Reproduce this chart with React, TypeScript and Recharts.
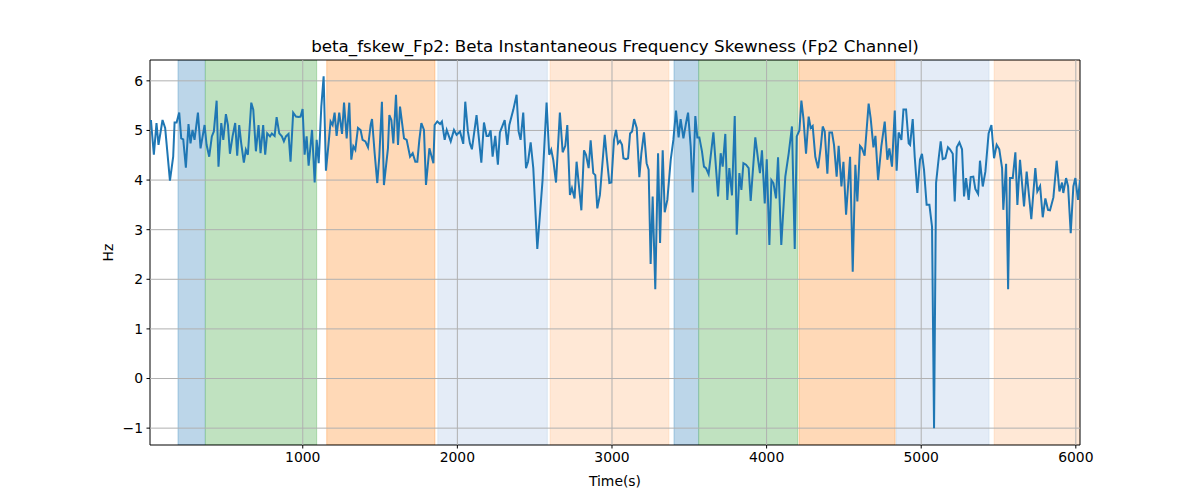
import React from "react";
import {
  ComposedChart,
  Line,
  XAxis,
  YAxis,
  ReferenceArea,
  ReferenceLine,
} from "recharts";

const times = [
  18, 37, 54, 67, 93, 110, 141, 162, 171, 184, 201, 214, 227, 244, 261, 274, 287, 300, 322, 339,
  365, 378, 395, 412, 425, 443, 455, 473, 486, 503, 516, 529, 546, 563, 576, 589, 602, 619, 632, 645,
  667, 680, 697, 714, 727, 744, 757, 770, 788, 800, 818, 831, 848, 865, 878, 891, 908, 921, 938, 956,
  973, 986, 999, 1012, 1025, 1038,
  1060, 1077, 1090, 1103, 1120, 1135, 1150, 1167, 1180, 1193, 1206, 1219, 1236, 1254, 1267, 1284,
  1301, 1314, 1327, 1340, 1357, 1374, 1387, 1405, 1422, 1439, 1448, 1465, 1482, 1495, 1512, 1525,
  1551, 1560, 1573, 1586, 1603, 1616, 1629, 1655, 1672, 1694, 1711, 1728, 1741, 1754, 1767, 1784,
  1797, 1819, 1845, 1853, 1870, 1888, 1900, 1918, 1931, 1957, 1978, 1995, 2017,
  2038, 2051, 2068, 2081, 2094, 2124, 2155, 2172, 2189, 2202, 2215, 2228, 2245, 2262, 2275, 2306,
  2323, 2336, 2362, 2383, 2396, 2409, 2426, 2444, 2457, 2474, 2491, 2517, 2551, 2577, 2594, 2607,
  2620, 2638, 2663, 2681, 2698, 2711, 2728, 2741, 2758, 2771, 2802, 2819, 2832, 2849, 2862, 2879,
  2892, 2905, 2922, 2953, 2966, 2983,
  2996, 3013, 3026, 3039, 3052, 3065, 3074, 3091, 3104, 3117, 3130, 3143, 3160, 3177, 3190, 3207,
  3224, 3237, 3250, 3263, 3280, 3298, 3311, 3328, 3341, 3358, 3380, 3397, 3414, 3431, 3444, 3462,
  3479, 3492, 3509, 3522, 3539, 3552, 3565, 3582, 3595, 3608, 3625, 3656, 3686, 3703, 3716, 3733,
  3746, 3759, 3776, 3794, 3807, 3824, 3837, 3850, 3867, 3884, 3897, 3927, 3945, 3957,
  3970, 3988, 4001, 4018, 4031, 4044, 4061, 4074, 4095, 4121, 4143, 4164, 4182, 4195, 4212, 4225,
  4238, 4255, 4272, 4285, 4298, 4315, 4333, 4350, 4363, 4376, 4393, 4406, 4423, 4436, 4453, 4466,
  4484, 4497, 4514, 4540, 4557, 4574, 4587, 4604, 4617, 4634, 4660, 4673, 4691, 4704, 4721, 4742,
  4764, 4781, 4794, 4811, 4829, 4841, 4854, 4872, 4885, 4902, 4919, 4928,
  4945, 4958, 4975, 4992, 5005, 5018, 5035, 5053, 5070, 5083, 5096, 5113, 5126, 5139, 5156, 5173,
  5186, 5204, 5217, 5230, 5247, 5264, 5277, 5290, 5307, 5320, 5337, 5350, 5368, 5380, 5398, 5415,
  5436, 5454, 5471, 5488, 5505, 5523, 5531, 5549, 5562, 5574, 5592, 5609, 5622, 5639, 5665, 5682,
  5712, 5738, 5751, 5769, 5786, 5803, 5820, 5833, 5855, 5876, 5894, 5911, 5919, 5937, 5950, 5967,
  5984, 5997, 6014, 6027,
];

const values = [
  5.21, 4.51, 5.15, 4.71, 5.21, 5.05, 3.99, 4.47, 5.16, 5.16, 5.36, 4.84, 4.82, 4.25, 5.13, 4.74, 5.01, 4.81, 5.36, 4.64,
  5.11, 4.71, 4.47, 4.88, 4.98, 5.6, 4.27, 5.15, 4.81, 5.33, 5.11, 4.53, 4.88, 5.15, 4.49, 5.11, 4.74, 4.35, 4.61, 4.51,
  5.56, 5.42, 4.58, 5.11, 4.54, 5.11, 4.51, 4.94, 4.88, 4.94, 4.89, 5.27, 4.94, 4.88, 4.78, 4.88, 4.93, 4.37, 5.36, 5.28,
  5.27, 5.28, 5.43, 4.51, 4.88, 4.29,
  5.01, 3.95, 4.81, 4.34, 5.48, 6.09, 4.19, 4.74, 5.18, 5.11, 5.36, 4.89, 5.36, 4.93, 5.56, 4.84,
  5.56, 4.41, 4.68, 4.61, 5.05, 5.01, 4.81, 4.78, 4.66, 5.11, 5.23, 4.54, 3.94, 4.47, 5.58, 3.9,
  4.64, 5.31, 5.21, 4.74, 5.72, 4.71, 5.48, 4.84, 4.81, 4.47, 4.54, 4.37, 4.37, 4.81, 5.15, 5.01,
  3.9, 4.64, 4.34, 5.11, 5.18, 5.13, 5.18, 4.81, 5.01, 4.78, 5.01, 4.91, 4.98,
  4.73, 5.58, 4.98, 4.74, 4.62, 5.31, 4.35, 5.16, 4.89, 4.89, 5.0, 4.47, 4.89, 4.31, 4.96, 5.21,
  4.71, 5.11, 5.42, 5.72, 4.98, 4.81, 5.36, 4.24, 4.37, 4.76, 4.24, 2.61, 4.0, 5.56, 4.51, 4.61,
  4.41, 3.95, 5.36, 4.56, 4.69, 5.11, 3.7, 3.84, 3.63, 4.37, 3.39, 4.6, 4.51, 4.24, 4.8, 4.14,
  4.1, 3.43, 3.7, 4.91, 4.47, 3.94,
  3.95, 4.81, 5.01, 4.74, 4.79, 4.71, 4.44, 4.42, 4.44, 4.94, 4.98, 5.23, 5.05, 4.06, 4.54, 4.96,
  4.34, 4.21, 2.31, 3.67, 1.8, 4.54, 2.73, 4.6, 3.35, 3.6, 4.41, 4.81, 5.4, 4.86, 5.23, 4.84,
  5.15, 5.36, 4.68, 3.75, 5.29, 4.86, 4.86, 4.58, 4.27, 4.24, 4.12, 4.96, 3.67, 4.54, 4.27, 4.93,
  3.6, 4.24, 3.69, 5.29, 2.9, 4.14, 3.8, 4.34, 4.31, 4.24, 3.58, 4.86, 4.41, 4.14,
  4.6, 3.53, 4.42, 2.69, 4.0, 3.94, 3.63, 4.46, 2.69, 4.07, 4.54, 5.08, 2.61, 4.88, 5.0, 5.6,
  5.25, 4.53, 5.28, 5.05, 5.09, 4.47, 4.24, 4.66, 5.08, 4.98, 4.13, 4.96, 4.96, 4.71, 4.07, 4.69,
  3.87, 4.37, 3.3, 4.47, 2.15, 4.31, 3.57, 4.69, 4.64, 4.49, 5.54, 5.25, 4.66, 4.89, 4.0, 4.68,
  5.18, 4.41, 4.64, 4.27, 5.4, 4.19, 4.96, 4.81, 5.42, 5.42, 4.74, 4.71,
  5.23, 4.47, 3.74, 4.41, 4.53, 4.21, 3.5, 3.5, 3.06, -1.0, 3.94, 4.44, 4.78, 4.42, 4.44, 4.66,
  4.62, 4.53, 3.57, 4.66, 4.76, 4.62, 3.67, 4.04, 3.6, 4.06, 4.07, 3.82, 3.72, 4.39, 3.87, 4.17,
  4.94, 5.11, 4.44, 4.71, 4.62, 4.24, 3.4, 4.33, 1.8, 4.04, 4.04, 4.56, 3.5, 4.41, 3.47, 4.17,
  3.21, 4.24, 3.77, 3.88, 3.25, 3.63, 3.4, 3.39, 3.65, 4.39, 3.77, 3.95, 3.74, 4.04, 3.87, 2.93,
  3.87, 4.04, 3.6, 4.0,
];

const bandStarts = [193, 370, 1155, 1873, 2599, 3401, 3561, 4210, 4837, 5471];
const bandEnds = [370, 1090, 1855, 2582, 3369, 3561, 4201, 4831, 5439, 6027];
const bandKinds = ["blue", "green", "orange", "lightblue", "lightorange", "blue", "green", "orange", "lightblue", "lightorange"];

const xTicks = [1000, 2000, 3000, 4000, 5000, 6000];
const yTicks = [-1, 0, 1, 2, 3, 4, 5, 6];

const X_DOMAIN: [number, number] = [12, 6027];
const Y_DOMAIN: [number, number] = [-1.34, 6.42];

const bandStyle: Record<string, { fill: string; edge: string; edgeOpacity: number }> = {
  blue: { fill: "#BCD6E9", edge: "#1f77b4", edgeOpacity: 0.3 },
  green: { fill: "#C0E2C0", edge: "#2ca02c", edgeOpacity: 0.3 },
  orange: { fill: "#FFD9B7", edge: "#ff7f0e", edgeOpacity: 0.3 },
  lightblue: { fill: "#E4ECF7", edge: "#1f77b4", edgeOpacity: 0.1 },
  lightorange: { fill: "#FFE8D6", edge: "#ff7f0e", edgeOpacity: 0.12 },
};

const data = times.map((t, i) => ({ t, v: values[i] }));

const FONT = "'DejaVu Sans', sans-serif";
const fmtMinus = (v: number) => String(v).replace("-", "\u2212");

export default function App() {
  return (
    <div style={{ position: "absolute", left: 0, top: 0, width: 1200, height: 500, background: "#fff" }}>
      <ComposedChart
        width={1200}
        height={500}
        data={data}
        margin={{ top: 60, right: 120, bottom: 0, left: 0 }}
      >
        <XAxis
          dataKey="t"
          type="number"
          domain={X_DOMAIN}
          ticks={xTicks}
          allowDataOverflow
          height={55}
          axisLine={false}
          tickLine={{ stroke: "#000", strokeWidth: 1 }}
          tickSize={3.5}
          tickMargin={3.5}
          tick={{ fill: "#000", fontSize: 13.9, fontFamily: FONT }}
        />
        <YAxis
          type="number"
          domain={Y_DOMAIN}
          ticks={yTicks}
          allowDataOverflow
          width={150}
          axisLine={false}
          tickLine={{ stroke: "#000", strokeWidth: 1 }}
          tickSize={3.5}
          tickMargin={3.5}
          tickFormatter={fmtMinus}
          tick={{ fill: "#000", fontSize: 13.9, fontFamily: FONT }}
        />
        {bandStarts.map((s, i) => {
          const st = bandStyle[bandKinds[i]];
          return (
            <ReferenceArea
              key={"b" + i}
              x1={s}
              x2={bandEnds[i]}
              y1={Y_DOMAIN[0]}
              y2={Y_DOMAIN[1]}
              fill={st.fill}
              fillOpacity={1}
              stroke={st.edge}
              strokeOpacity={st.edgeOpacity}
              strokeWidth={1}
              ifOverflow="hidden"
            />
          );
        })}
        {xTicks.map((x) => (
          <ReferenceLine key={"gx" + x} x={x} stroke="#b0b0b0" strokeWidth={1} />
        ))}
        {yTicks.map((y) => (
          <ReferenceLine key={"gy" + y} y={y} stroke="#b0b0b0" strokeWidth={1} />
        ))}
        <Line
          type="linear"
          dataKey="v"
          stroke="#1f77b4"
          strokeWidth={2}
          dot={false}
          activeDot={false}
          isAnimationActive={false}
        />
        <ReferenceArea
          x1={X_DOMAIN[0]}
          x2={X_DOMAIN[1]}
          y1={Y_DOMAIN[0]}
          y2={Y_DOMAIN[1]}
          fill="none"
          stroke="#000"
          strokeWidth={1}
        />
      </ComposedChart>
      <svg
        width={1200}
        height={500}
        style={{ position: "absolute", left: 0, top: 0, pointerEvents: "none" }}
      >
        <text x={615} y={52} textAnchor="middle" fontSize={16.7} fontFamily={FONT} fill="#000">
          beta_fskew_Fp2: Beta Instantaneous Frequency Skewness (Fp2 Channel)
        </text>
        <text x={615} y={486} textAnchor="middle" fontSize={13.9} fontFamily={FONT} fill="#000">
          Time(s)
        </text>
        <text
          x={0}
          y={0}
          transform="translate(113,252.5) rotate(-90)"
          textAnchor="middle"
          fontSize={13.9}
          fontFamily={FONT}
          fill="#000"
        >
          Hz
        </text>
      </svg>
    </div>
  );
}
